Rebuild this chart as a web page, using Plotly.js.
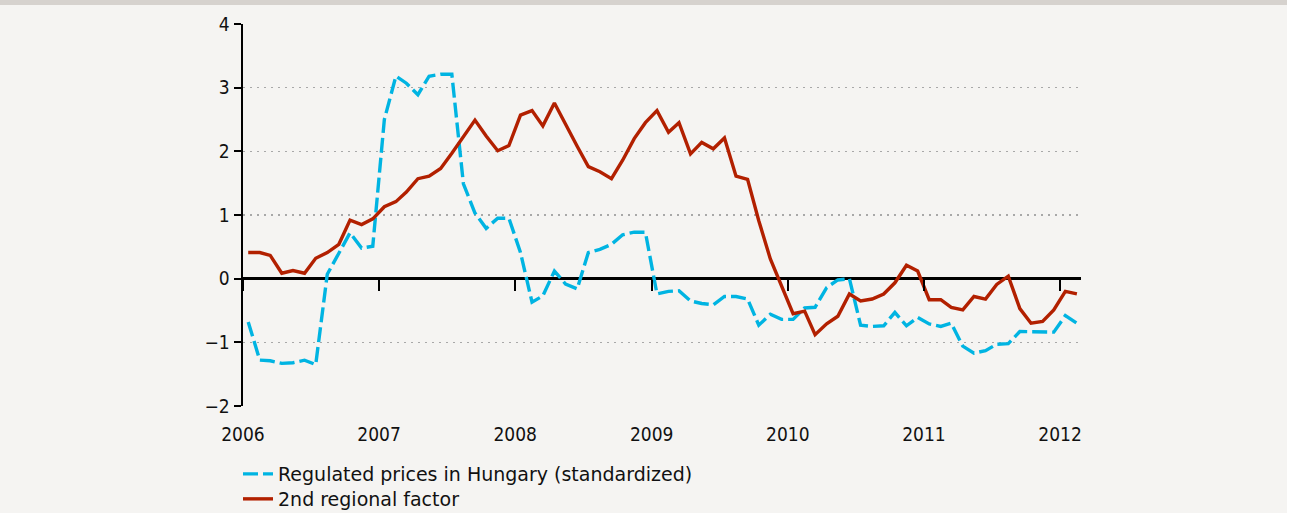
<!DOCTYPE html>
<html>
<head>
<meta charset="utf-8">
<script src="https://cdn.plot.ly/plotly-3.0.1.min.js"></script>
<style>
  html, body { margin: 0; padding: 0; background: #ffffff; }
  #wrap { position: relative; width: 1290px; height: 513px; background: #ffffff; }
  #chart { position: absolute; left: 0; top: 0; width: 1287px; height: 513px; }
  #band { position: absolute; left: 0; top: 0; width: 1287px; height: 5px; background: #d6d2ce; }
</style>
</head>
<body>
<div id="wrap"><div id="chart"></div><div id="band"></div></div>
<script>
// Monthly observations, January 2006 – February 2012 (plotted mid-month)
var startYear = 2006;
var monthCount = 74;
var months = [];
for (var i = 0; i < monthCount; i++) {
  var y = startYear + Math.floor(i / 12);
  var m = (i % 12) + 1;
  months.push(y + '-' + (m < 10 ? '0' + m : m) + '-15');
}

var seriesNames = ['Regulated prices in Hungary (standardized)', '2nd regional factor'];

var regulatedPrices = [
  -0.68, -1.28, -1.29, -1.33, -1.32, -1.28, -1.35, 0.07, 0.40, 0.72, 0.48, 0.51,
  2.50, 3.18, 3.07, 2.89, 3.18, 3.21, 3.21, 1.49, 1.03, 0.79, 0.95, 0.95,
  0.41, -0.37, -0.27, 0.12, -0.085, -0.16, 0.41, 0.46, 0.54, 0.69, 0.73, 0.73,
  -0.24, -0.20, -0.19, -0.35, -0.39, -0.41, -0.28, -0.28, -0.32, -0.73, -0.56, -0.64,
  -0.64, -0.46, -0.45, -0.14, -0.02, 0.0, -0.73, -0.75, -0.74, -0.53, -0.74, -0.61,
  -0.71, -0.75, -0.70, -1.06, -1.17, -1.13, -1.03, -1.02, -0.83, -0.83, -0.83, -0.84,
  -0.58, -0.70
];

var regionalFactor = [
  0.41, 0.41, 0.365, 0.085, 0.127, 0.085, 0.32, 0.41, 0.54, 0.92, 0.85, 0.94,
  1.13, 1.21, 1.36, 1.57, 1.61, 1.73, 1.97, 2.22, 2.49, 2.24, 2.01, 2.09,
  2.57, 2.64, 2.40, 2.76, 2.42, 2.08, 1.76, 1.68, 1.57, 1.86, 2.20, 2.45,
  2.64, 2.30, 2.45, 1.96, 2.14, 2.04, 2.21, 1.61, 1.56, 0.91, 0.31, -0.13,
  -0.55, -0.51, -0.88, -0.71, -0.59, -0.24, -0.35, -0.32, -0.24, -0.065, 0.21, 0.12,
  -0.33, -0.33, -0.45, -0.49, -0.28, -0.32, -0.09, 0.04, -0.47, -0.70, -0.67, -0.49,
  -0.20, -0.24
];

var yTickVals = [-2, -1, 0, 1, 2, 3, 4];
var xTickVals = ['2006-01-01', '2007-01-01', '2008-01-01', '2009-01-01', '2010-01-01', '2011-01-01', '2012-01-01'];
var xTickText = ['2006', '2007', '2008', '2009', '2010', '2011', '2012'];

var FONT = 'DejaVu Sans, Verdana, sans-serif';
var TICKFONT = 'DejaVu Sans Condensed, DejaVu Sans, sans-serif';
var xRange = ['2006-01-01', '2012-02-26'];

var traces = [
  {
    x: months, y: regulatedPrices, name: seriesNames[0],
    type: 'scatter', mode: 'lines', xaxis: 'x', yaxis: 'y', legend: 'legend',
    line: { color: '#00b4e2', width: 3.4, dash: '15px,5px' },
    hoverinfo: 'skip'
  },
  {
    x: months, y: regionalFactor, name: seriesNames[1],
    type: 'scatter', mode: 'lines', xaxis: 'x2', yaxis: 'y', legend: 'legend2',
    line: { color: '#b22000', width: 3.4 },
    hoverinfo: 'skip'
  }
];

var legendBase = {
  xref: 'container', x: 238 / 1287, xanchor: 'left',
  yref: 'container', yanchor: 'middle',
  bgcolor: 'rgba(0,0,0,0)', borderwidth: 0,
  font: { family: FONT, size: 19, color: '#111111' }
};

var layout = {
  width: 1287, height: 513,
  paper_bgcolor: '#f5f4f2', plot_bgcolor: '#f5f4f2',
  margin: { l: 243, r: 206, t: 24, b: 107, autoexpand: false },
  font: { family: FONT, size: 17, color: '#111111' },
  showlegend: true,
  legend: Object.assign({}, legendBase, { y: 1 - 474 / 513 }),
  legend2: Object.assign({}, legendBase, { y: 1 - 499 / 513 }),
  xaxis: {
    type: 'date', range: xRange,
    tickvals: xTickVals, ticktext: xTickText,
    ticks: 'outside', ticklen: 11, tickcolor: 'rgba(0,0,0,0)',
    showline: false, showgrid: false, zeroline: false,
    tickfont: { family: TICKFONT, size: 19, color: '#111111' },
    fixedrange: true
  },
  xaxis2: {
    type: 'date', range: xRange, overlaying: 'x',
    anchor: 'free', position: 2 / 6,
    tickvals: xTickVals, showticklabels: false,
    ticks: 'outside', ticklen: 11, tickwidth: 2, tickcolor: '#000000',
    showline: false, showgrid: false, zeroline: false,
    fixedrange: true
  },
  yaxis: {
    range: [-2, 4], tickvals: yTickVals,
    ticks: 'outside', ticklen: 7, tickwidth: 2, tickcolor: '#000000',
    showline: true, linecolor: '#000000', linewidth: 2.5,
    showgrid: true, gridcolor: '#a8a8a8', gridwidth: 1.5, griddash: '2px,5px',
    zeroline: true, zerolinecolor: '#000000', zerolinewidth: 2.5,
    tickfont: { family: TICKFONT, size: 19, color: '#111111' },
    fixedrange: true
  }
};

Plotly.newPlot('chart', traces, layout, { displayModeBar: false, staticPlot: true });
</script>
</body>
</html>
